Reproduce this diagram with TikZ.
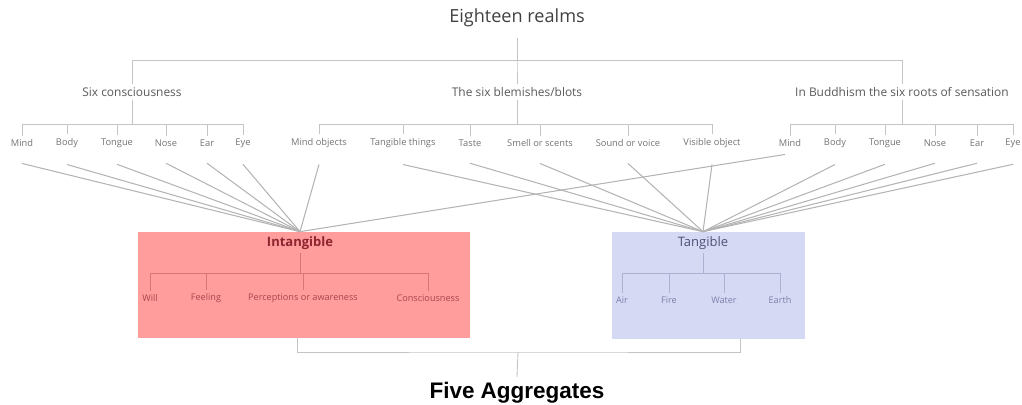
\documentclass[tikz,border=0pt]{standalone}
\usepackage{fontspec}
\setmainfont{Open Sans}
\newfontfamily\headfont{Liberation Sans}
\usetikzlibrary{calc,positioning}
\definecolor{treegray}{HTML}{C4C4C4}
\definecolor{fangray}{HTML}{B4B4B4}
\definecolor{intgfill}{HTML}{FF9C9C}
\definecolor{intgtext}{HTML}{8E2430}
\definecolor{intgleaf}{HTML}{A8464E}
\definecolor{tangfill}{HTML}{D6D9F4}
\definecolor{tangtext}{HTML}{4E5278}
\definecolor{tangleaf}{HTML}{7C80A8}

\begin{document}
\begin{tikzpicture}[x=0.02cm,y=-0.02cm,
  tree/.style={draw=treegray,line width=0.5pt},
  fan/.style={draw=fangray,line width=0.6pt},
  lvl/.style={font=\fontsize{6.8}{8}\selectfont,text=black!65,inner sep=2pt},
  leaf/.style={font=\fontsize{5.3}{6}\selectfont,text=black!55,inner sep=2pt},
  boxleaf/.style={font=\fontsize{5.2}{6}\selectfont,inner sep=2pt}]
  \useasboundingbox (0,0) rectangle (1022,405);

  % Eighteen realms and its three branches
  \node[font=\fontsize{10.3}{12}\selectfont,text=black!75,inner sep=6pt] (eighteen) at (517,18) {Eighteen realms};
  \node[lvl] (sixc) at (132,92) {Six consciousness};
  \node[lvl] (blots) at (517,92) {The six blemishes/blots};
  \node[lvl] (roots) at (902,92) {In Buddhism the six roots of sensation};
  \coordinate (barT) at (0,60);
  \foreach \c in {sixc,blots,roots}
    \draw[tree] (eighteen.south) -- (eighteen.south |- barT) -| (\c.north);

  % the eighteen leaves
  \foreach \n/\t/\x in {cMind/Mind/22,cBody/Body/67,cTongue/Tongue/117,cNose/Nose/166,cEar/Ear/207,cEye/Eye/243,
      bMind/Mind objects/319,bTouch/Tangible things/403,bTaste/Taste/470,bSmell/Smell or scents/540,bSound/Sound or voice/628,bSight/Visible object/712,
      rMind/Mind/790,rBody/Body/835,rTongue/Tongue/885,rNose/Nose/935,rEar/Ear/977,rEye/Eye/1013}
    \node[leaf] (\n) at (\x,143) {\t};
  \coordinate (barL) at (0,124);
  \foreach \n in {cMind,cBody,cTongue,cNose,cEar,cEye}
    \draw[tree] (sixc.south) -- (sixc.south |- barL) -| (\n.north);
  \foreach \n in {bMind,bTouch,bTaste,bSmell,bSound,bSight}
    \draw[tree] (blots.south) -- (blots.south |- barL) -| (\n.north);
  \foreach \n in {rMind,rBody,rTongue,rNose,rEar,rEye}
    \draw[tree] (roots.south) -- (roots.south |- barL) -| (\n.north);

  % Intangible box
  \node[fill=intgfill,minimum width=6.64cm,minimum height=2.12cm,inner sep=0] (intg) at (304,285) {};
  \node[font=\fontsize{7.4}{9}\selectfont\bfseries,text=intgtext,inner sep=2pt] (intgT) at (300,243) {Intangible};
  \foreach \n/\t/\x in {iWill/Will/150,iFeel/Feeling/206,iPerc/Perceptions or awareness/303,iCons/Consciousness/428}
    \node[boxleaf,text=intgleaf] (\n) at (\x,298) {\t};
  \coordinate (barI) at (0,273);
  \foreach \n in {iWill,iFeel,iPerc,iCons}
    \draw[tree,draw=intgleaf!45!intgfill] (intgT.south) -- (intgT.south |- barI) -| (\n.north);

  % Tangible box
  \node[fill=tangfill,minimum width=3.86cm,minimum height=2.14cm,inner sep=0] (tang) at (708.5,285.5) {};
  \node[font=\fontsize{7.4}{9}\selectfont,text=tangtext,inner sep=2pt] (tangT) at (703,243) {Tangible};
  \foreach \n/\t/\x in {tAir/Air/622,tFire/Fire/669,tWater/Water/724,tEarth/Earth/780}
    \node[boxleaf,text=tangleaf] (\n) at (\x,300) {\t};
  \coordinate (barG) at (0,273);
  \foreach \n in {tAir,tFire,tWater,tEarth}
    \draw[tree,draw=tangleaf!45!tangfill] (tangT.south) -- (tangT.south |- barG) -| (\n.north);

  % fans into the two boxes
  \foreach \n in {cMind,cBody,cTongue,cNose,cEar,cEye,bMind}
    \draw[fan] (\n.south) ++(0,13) -- (intg.north -| intgT);
  \draw[fan] (rMind.south) ++(-5,4) -- (intg.north -| intgT);
  \foreach \n in {bTouch,bTaste,bSmell,bSound,bSight,rBody,rTongue,rNose,rEar,rEye}
    \draw[fan] (\n.south) ++(0,13) -- (tang.north -| tangT);

  % Five Aggregates
  \node[font=\headfont\bfseries\fontsize{12.8}{15}\selectfont,inner sep=3pt] (five) at (517,393) {Five Aggregates};
  \coordinate (barB) at (518,352);
  \draw[tree] (intg.south -| 297,0) |- (barB) -| (tang.south -| 740,0);
  \draw[tree] (barB) -- (five.north);
\end{tikzpicture}
\end{document}
